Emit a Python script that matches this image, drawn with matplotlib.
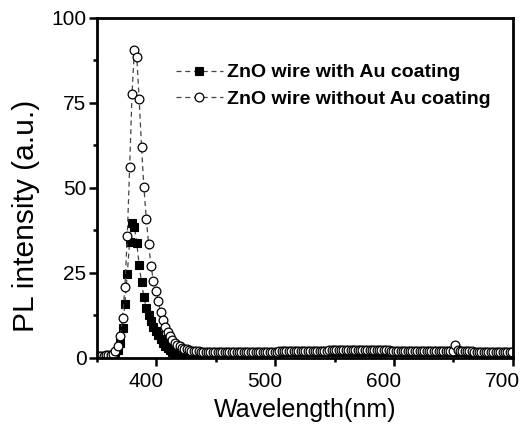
import numpy as np
import matplotlib.pyplot as plt
from matplotlib.ticker import MultipleLocator
from matplotlib.transforms import ScaledTranslation

plt.rcParams['font.family'] = ['Liberation Sans', 'DejaVu Sans']

# wavelength grid of the spectrometer (nm)
wavelength = np.arange(351.5, 700, 2)

# PL intensity, ZnO wire with Au coating (filled squares)
with_au = [
    0.4, 0.4, 0.4, 0.5, 0.5, 0.6, 0.8, 1.3, 2.4, 4.3,
    8.7, 15.8, 24.7, 34.2, 39.8, 38.6, 33.7, 27.4, 22.2, 17.9,
    14.6, 12.6, 10.7, 9.2, 7.9, 6.7, 5.5, 4.4, 3.5, 2.8,
    2.2, 1.7, 1.3, 1.1, 1.0, 0.9, 0.9, 0.9, 0.9, 1.0,
    1.0, 1.0, 1.0, 1.1, 1.1,
    1.1, 1.1, 1.2, 1.2, 1.2, 1.2, 1.3, 1.3, 1.3, 1.3,
    1.3, 1.3, 1.3, 1.4, 1.4, 1.4, 1.4, 1.4, 1.4, 1.4,
    1.4, 1.5, 1.5, 1.5, 1.5, 1.5, 1.5, 1.5, 1.5, 1.5,
    1.5, 1.5, 1.6, 1.6, 1.6, 1.6, 1.6, 1.6, 1.6, 1.6,
    1.6, 1.6, 1.6, 1.7, 1.7, 1.7, 1.7, 1.7, 1.7, 1.7,
    1.7, 1.7, 1.7, 1.7, 1.7, 1.7, 1.7, 1.7, 1.7, 1.7,
    1.7, 1.7, 1.7, 1.7, 1.7, 1.7, 1.7, 1.7, 1.7, 1.7,
    1.7, 1.7, 1.7, 1.7, 1.7, 1.7, 1.7, 1.7, 1.7, 1.7,
    1.7, 1.7, 1.7, 1.7, 1.6, 1.6, 1.6, 1.6, 1.6, 1.6,
    1.6, 1.6, 1.6, 1.6, 1.6, 1.6, 1.6, 1.6, 1.6, 1.6,
    1.6, 1.6, 1.6, 1.6, 1.6, 1.8, 1.6, 1.6, 1.6, 1.6,
    1.6, 1.5, 1.5, 1.5, 1.5, 1.5, 1.5, 1.5, 1.5, 1.5,
    1.5, 1.5, 1.5, 1.5, 1.5, 1.5, 1.5, 1.5, 1.5, 1.5,
]

# PL intensity, ZnO wire without Au coating (open circles)
without_au = [
    0.6, 0.6, 0.6, 0.7, 0.7, 0.9, 1.2, 1.9, 3.5, 6.5,
    11.7, 20.8, 35.7, 56.0, 77.6, 90.6, 88.4, 76.2, 62.1, 50.2,
    40.9, 33.4, 27.1, 22.6, 19.8, 16.6, 13.6, 11.2, 9.2, 7.6,
    6.3, 5.3, 4.5, 3.9, 3.4, 3.0, 2.7, 2.5, 2.3, 2.1,
    2.0, 1.9, 1.9, 1.8, 1.8,
    1.7, 1.7, 1.6, 1.6, 1.6, 1.6, 1.6, 1.6, 1.6, 1.6,
    1.6, 1.6, 1.6, 1.6, 1.7, 1.7, 1.7, 1.7, 1.7, 1.7,
    1.7, 1.7, 1.7, 1.8, 1.8, 1.8, 1.8, 1.8, 1.8, 1.8,
    1.8, 1.9, 1.9, 1.9, 1.9, 1.9, 1.9, 2.0, 2.0, 2.0,
    2.0, 2.0, 2.0, 2.0, 2.1, 2.1, 2.1, 2.1, 2.1, 2.1,
    2.1, 2.1, 2.2, 2.2, 2.2, 2.2, 2.2, 2.2, 2.2, 2.2,
    2.2, 2.2, 2.2, 2.2, 2.2, 2.2, 2.2, 2.2, 2.2, 2.2,
    2.2, 2.2, 2.2, 2.2, 2.2, 2.2, 2.2, 2.2, 2.1, 2.1,
    2.1, 2.1, 2.1, 2.1, 2.1, 2.1, 2.1, 2.0, 2.0, 2.0,
    2.0, 2.0, 2.0, 2.0, 2.0, 2.0, 2.0, 1.9, 1.9, 1.9,
    1.9, 1.9, 1.9, 1.9, 2.0, 3.8, 2.2, 1.9, 1.9, 1.9,
    1.9, 1.9, 1.9, 1.8, 1.8, 1.8, 1.8, 1.8, 1.8, 1.8,
    1.8, 1.8, 1.8, 1.7, 1.7, 1.7, 1.7, 1.7, 1.7, 1.7,
]

labels = ['ZnO wire with Au coating', 'ZnO wire without Au coating']

fig = plt.figure(figsize=(5.27, 4.26), dpi=100)
ax = fig.add_axes([0.184, 0.160, 0.789, 0.798])

ax.plot(wavelength, with_au, ls=(0, (4, 3)), lw=0.9, color='#444444',
        marker='s', ms=6, mfc='black', mec='black', mew=0.8, label=labels[0])
ax.plot(wavelength, without_au, ls=(0, (4, 3)), lw=0.9, color='#444444',
        marker='o', ms=6.3, mfc='white', mec='black', mew=0.9, label=labels[1])

ax.set_xlim(350, 700)
ax.set_ylim(0, 100)
ax.xaxis.set_major_locator(MultipleLocator(100))
ax.xaxis.set_minor_locator(MultipleLocator(50))
ax.yaxis.set_major_locator(MultipleLocator(25))
ax.yaxis.set_minor_locator(MultipleLocator(12.5))
ax.tick_params(which='major', direction='out', length=5.5, width=1.8,
               labelsize=15, colors='black')
ax.tick_params(axis='y', which='major', pad=2)
ax.tick_params(axis='x', which='major', pad=5)
ax.tick_params(which='minor', direction='out', length=3, width=1.8)
for s in ax.spines.values():
    s.set_linewidth(2)

# the x tick labels sit a little left of their ticks in the original
shift = ScaledTranslation(-10 / 100, 0, fig.dpi_scale_trans)
for lab in ax.get_xticklabels():
    lab.set_transform(lab.get_transform() + shift)

ax.set_xlabel('Wavelength(nm)', fontsize=18, labelpad=5)
ax.set_ylabel('PL intensity (a.u.)', fontsize=21.5)
ax.yaxis.set_label_coords(-0.137, 0.418)

ax.legend(loc='upper left', bbox_to_anchor=(0.19, 0.865), frameon=False,
          borderaxespad=0, borderpad=0, handlelength=2.4, handletextpad=0.2,
          labelspacing=0.45, prop={'weight': 'bold', 'size': 14})

fig.savefig('out.png', dpi=100)
